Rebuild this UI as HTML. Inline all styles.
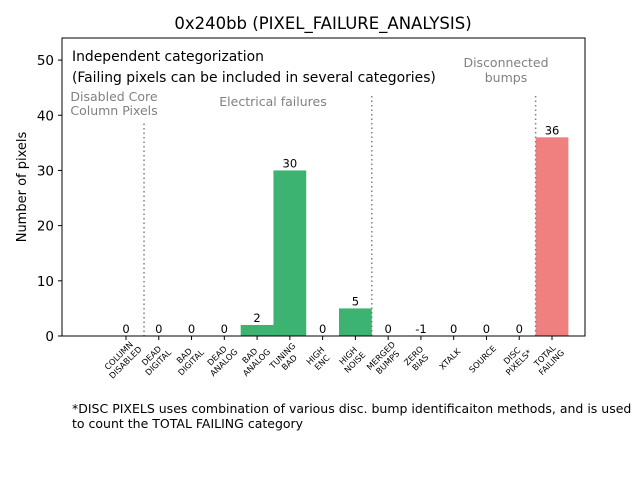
<!DOCTYPE html>
<html><head><meta charset="utf-8"><style>
body{margin:0;background:#fff;}
svg{display:block;font-family:"DejaVu Sans","Liberation Sans",sans-serif;}
</style></head><body>
<svg id="chart" width="640" height="480" viewBox="0 0 640 480">
<text x="323" y="29" font-size="16.5" text-anchor="middle">0x240bb (PIXEL_FAILURE_ANALYSIS)</text>
<g id="plot"></g>
<text transform="translate(26,187) rotate(-90)" font-size="13" text-anchor="middle">Number of pixels</text>
<text x="72" y="61" font-size="13.9">Independent categorization</text>
<text x="72" y="82" font-size="13.9">(Failing pixels can be included in several categories)</text>
<text font-size="12.5" fill="#808080"><tspan x="114" y="101" text-anchor="middle">Disabled Core</tspan><tspan x="114" y="115" text-anchor="middle">Column Pixels</tspan></text>
<text x="273" y="106" font-size="12.5" fill="#808080" text-anchor="middle">Electrical failures</text>
<text font-size="12.5" fill="#808080"><tspan x="506" y="67" text-anchor="middle">Disconnected</tspan><tspan x="506" y="82" text-anchor="middle">bumps</tspan></text>
<text font-size="12.5"><tspan x="72" y="413">*DISC PIXELS uses combination of various disc. bump identificaiton methods, and is used</tspan><tspan x="72" y="428">to count the TOTAL FAILING category</tspan></text>
</svg>
<script>
const categories=[["COLUMN","DISABLED"],["DEAD","DIGITAL"],["BAD","DIGITAL"],["DEAD","ANALOG"],["BAD","ANALOG"],["TUNING","BAD"],["HIGH","ENC"],["HIGH","NOISE"],["MERGED","BUMPS"],["ZERO","BIAS"],["XTALK"],["SOURCE"],["DISC","PIXELS*"],["TOTAL","FAILING"]];
const values=[0,0,0,0,2,30,0,5,0,-1,0,0,0,36];
const colors=["#3cb371","#3cb371","#3cb371","#3cb371","#3cb371","#3cb371","#3cb371","#3cb371","#3cb371","#3cb371","#3cb371","#3cb371","#3cb371","#f08080"];
const yTicks=[0,10,20,30,40,50];
const separators=[0.55,7.5,12.5];
const sepTops=[38.5,43.5,43.5];
const NS="http://www.w3.org/2000/svg";
const L=62,R=585,T=38,B=336,YMAX=54;
const x0=126,step=32.77;
function xs(i){return x0+step*i;}
function ys(v){return B-(v/YMAX)*(B-T);}
const g=document.getElementById('plot');
function mk(tag,attrs){const e=document.createElementNS(NS,tag);for(const k in attrs)e.setAttribute(k,attrs[k]);g.appendChild(e);return e;}
values.forEach((v,i)=>{
  const h=Math.max(v,0);
  if(h>0){const r=mk('rect',{x:xs(i)-step/2,y:ys(h),width:step,height:ys(0)-ys(h),fill:colors[i]});
  
  }
  const t=mk('text',{x:xs(i),y:ys(h)-3,'font-size':11.5,'text-anchor':'middle'});
  t.textContent=String(v);
  
  
});
separators.forEach((s,i)=>{
  const l=mk('line',{x1:xs(s),x2:xs(s),y1:ys(sepTops[i]),y2:B,stroke:'#808080','stroke-width':1.5,'stroke-dasharray':'1.5,3'});
  
  
});
const fr=mk('rect',{x:L,y:T,width:R-L,height:B-T,fill:'none',stroke:'#000','stroke-width':1});


yTicks.forEach(v=>{
  const tl=mk('line',{x1:L-4,x2:L,y1:ys(v),y2:ys(v),stroke:'#000'});
  
  
  const t=mk('text',{x:L-8,y:ys(v)+5,'font-size':13.5,'text-anchor':'end'});
  t.textContent=v;
  
  
});
categories.forEach((c,i)=>{
  const tl=mk('line',{x1:xs(i),x2:xs(i),y1:B,y2:B+4,stroke:'#000'});
  
  
  const t=mk('text',{'font-size':8.3,'text-anchor':'middle',transform:'translate('+(xs(i)-4)+','+(B+23)+') rotate(-45)'});
  c.forEach((ln,j)=>{const sp=document.createElementNS(NS,'tspan');sp.setAttribute('x',0);sp.setAttribute('y',(j-(c.length-1)/2)*9.5+3);sp.textContent=ln;t.appendChild(sp);});
  
  
});
</script>
</body></html>
